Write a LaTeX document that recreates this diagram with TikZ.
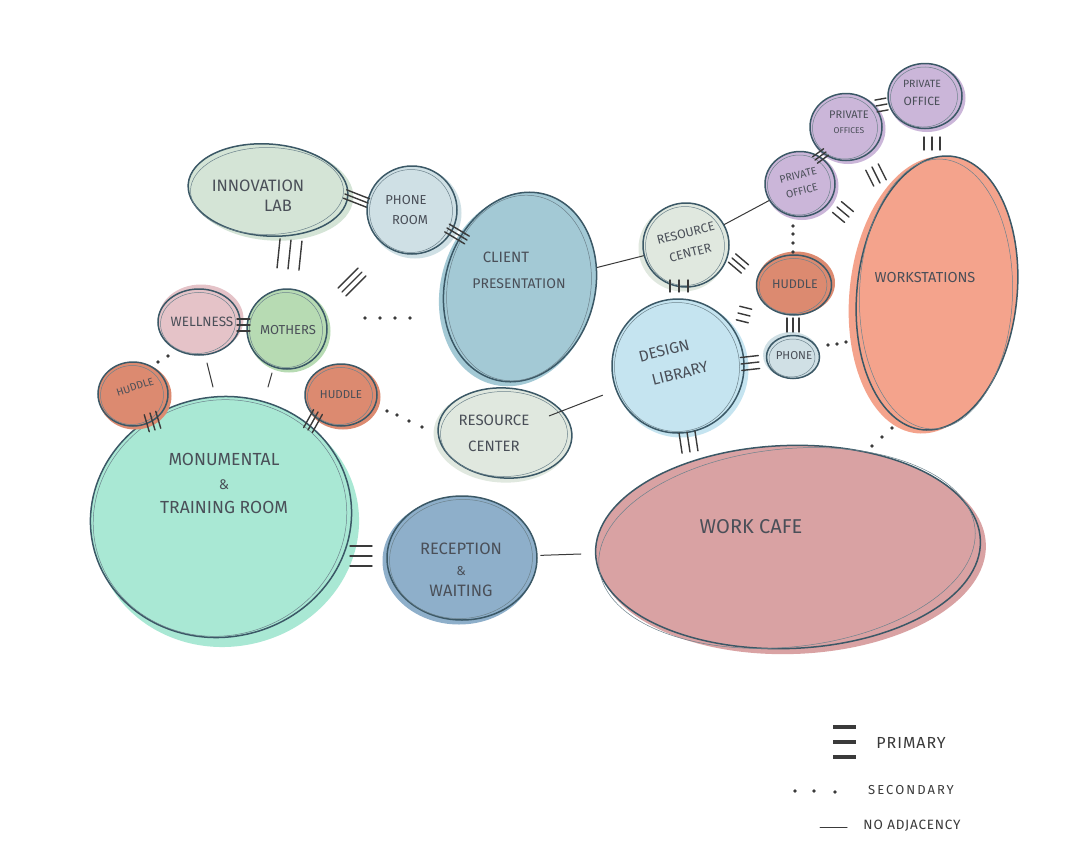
\documentclass[tikz,border=0pt]{standalone}
\usepackage{fontspec}
\setmainfont{Fira Sans}
\usetikzlibrary{shapes.geometric,calc}
\definecolor{ink}{HTML}{3B5866}
\definecolor{pen}{HTML}{3A3A3A}
\definecolor{txt}{HTML}{4A4F58}
\definecolor{cInnov}{HTML}{D4E4D6}
\definecolor{cPhoneR}{HTML}{CFE0E5}
\definecolor{cClient}{HTML}{A3C9D5}
\definecolor{cRes}{HTML}{E0E8DF}
\definecolor{cPriv}{HTML}{CBB6D9}
\definecolor{cHud}{HTML}{DC8A70}
\definecolor{cPhoneS}{HTML}{D0E0E5}
\definecolor{cWork}{HTML}{F4A38C}
\definecolor{cDesign}{HTML}{C5E4F0}
\definecolor{cRecep}{HTML}{8EAFCA}
\definecolor{cCafe}{HTML}{D9A2A3}
\definecolor{cMonu}{HTML}{A9E8D4}
\definecolor{cWell}{HTML}{E5C3C8}
\definecolor{cMoth}{HTML}{B7DBB3}
\newcommand\hsz[2]{\fontsize{#1}{#2}\selectfont}
\tikzset{
  bubble/.style={ellipse, draw=ink, line width=1.5pt, inner sep=0pt},
  halo/.style={ellipse, inner sep=0pt, draw=none},
  sketchline/.style={ellipse, draw=ink!75, line width=0.5pt, inner sep=0pt},
  lab/.style={text=txt, inner sep=0pt, align=center},
  prim/.style={draw=pen, line width=1.4pt, line cap=round},
  noadj/.style={draw=pen, line width=1pt, line cap=round},
  legbar/.style={draw=pen, line width=4pt},
}
\newcommand\bub[7]{%
  \node[halo, fill=#6, minimum width=#3pt+3pt, minimum height=#4pt+3pt, rotate=#5] at ($(#2)+(#7)$) {};
  \node[bubble, fill=#6, minimum width=#3pt, minimum height=#4pt, rotate=#5] (#1) at (#2) {};
  \node[sketchline, minimum width=#3pt-7pt, minimum height=#4pt-5pt, rotate=#5+4] at ($(#2)+(-1,1)$) {};
}
\newcommand\prm[4]{%
  \coordinate (#1-a) at (#2);
  \coordinate (#1-b) at (#3);
  \draw[prim] (#1-a) -- (#1-b);
  \draw[prim] ($(#1-a)!#4!90:(#1-b)$) -- ($(#1-b)!#4!-90:(#1-a)$);
  \draw[prim] ($(#1-a)!#4!-90:(#1-b)$) -- ($(#1-b)!#4!90:(#1-a)$);
}
\newcommand\dt[1]{\fill[pen] (#1) circle (1.9pt);}
\begin{document}
\begin{tikzpicture}[x=1pt,y=-1pt]
\useasboundingbox (0,0) rectangle (1072,860);
\fill[white] (0,0) rectangle (1072,860);

% bubbles
\bub{monu}{221,517}{262}{240}{12}{cMonu}{6,8}
\bub{innov}{268,190}{160}{92}{-4}{cInnov}{4,3}
\bub{phoneroom}{412,210}{90}{88}{0}{cPhoneR}{3,3}
\bub{client}{520,287}{150}{192}{-15}{cClient}{-3,3}
\bub{rctop}{686,245}{86}{84}{0}{cRes}{-3,3}
\bub{privlow}{800,184}{70}{65}{0}{cPriv}{2,2}
\bub{privmid}{846,127}{72}{67}{0}{cPriv}{2,2}
\bub{privtop}{925,96}{74}{65}{0}{cPriv}{2,2}
\bub{huddleR}{794,285}{75}{60}{0}{cHud}{2,-2}
\bub{phoneS}{793,357}{53}{43}{0}{cPhoneS}{-2,-2}
\bub{work}{937,293}{160}{275}{-6}{cWork}{-6,2}
\bub{design}{678,366}{132}{134}{0}{cDesign}{3,3}
\bub{rclow}{505,433}{134}{90}{-4}{cRes}{-3,3}
\bub{recep}{462,558}{150}{124}{0}{cRecep}{-3,3}
\bub{cafe}{788,547}{385}{203}{2}{cCafe}{4,4}
\bub{well}{199,322}{82}{66}{0}{cWell}{2,-3}
\bub{moth}{287,329}{80}{80}{0}{cMoth}{2,2}
\bub{hudL}{133,394}{70}{64}{0}{cHud}{2,2}
\bub{hudM}{341,395}{72}{62}{0}{cHud}{2,2}

% labels
\node[lab, font=\hsz{16.5}{20}] (innov-t) at (258,196) {INNOVATION\\\hspace*{40pt}LAB};
\node[lab, font=\hsz{13}{20}] (phoneroom-t) at (406,210) {PHONE\\\hspace*{8pt}ROOM};
\node[lab, font=\hsz{14}{26}] (client-t) at (519,270) {{\hsz{15}{26}CLIENT}\hspace*{26pt}\\PRESENTATION};
\node[lab, font=\hsz{12.5}{20}, rotate=14] (rctop-t) at (688,243) {RESOURCE\\CENTER};
\node[lab, font=\hsz{10.5}{16}, rotate=14] (privlow-t) at (800,183) {PRIVATE\\OFFICE};
\node[lab, font=\hsz{11}{15}] (privmid-t) at (849,122) {PRIVATE\\{\hsz{8.5}{15}OFFICES}};
\node[lab, font=\hsz{10.5}{18}] (privtop-t) at (922,93) {PRIVATE\\{\hsz{12}{18}OFFICE}};
\node[lab, font=\hsz{12.5}{14}] (huddleR-t) at (795,284) {HUDDLE};
\node[lab, font=\hsz{11.5}{14}] (phoneS-t) at (794,356) {PHONE};
\node[lab, font=\hsz{14.5}{16}] (work-t) at (925,277) {WORKSTATIONS};
\node[lab, font=\hsz{15.5}{26}, rotate=14] (design-t) at (672,362) {DESIGN\hspace*{10pt}\\\hspace*{10pt}LIBRARY};
\node[lab, font=\hsz{15}{26}] (rclow-t) at (494,433) {RESOURCE\\CENTER};
\node[lab, font=\hsz{16.5}{21}] (recep-t) at (461,570) {RECEPTION\\{\hsz{13}{21}\&}\\WAITING};
\node[lab, font=\hsz{20}{22}] (cafe-t) at (751,527) {WORK CAFE};
\node[lab, font=\hsz{17.5}{24}] (monu-t) at (224,483) {MONUMENTAL\\{\hsz{14}{24}\&}\\TRAINING ROOM};
\node[lab, font=\hsz{13.5}{15}] (well-t) at (202,322) {WELLNESS};
\node[lab, font=\hsz{13}{15}] (moth-t) at (288,330) {MOTHERS};
\node[lab, font=\hsz{10.5}{12}, rotate=18] (hudL-t) at (135,387) {HUDDLE};
\node[lab, font=\hsz{11.5}{13}] (hudM-t) at (341,395) {HUDDLE};

% primary adjacencies
\prm{p1}{345,194}{368,203}{4.5pt}
\prm{p2}{447,228}{467,240}{4.5pt}
\prm{p3}{291,240}{288,269}{11pt}
\prm{p4}{342,292}{362,272}{5.5pt}
\prm{p5}{237,325}{250,325}{6pt}
\prm{p6}{150,413}{155,430}{6pt}
\prm{p7}{318,412}{308,430}{5pt}
\prm{p8}{350,556}{372,556}{10pt}
\prm{p9}{679,280}{679,292}{9pt}
\prm{p10}{732,258}{745,269}{5.5pt}
\prm{p11}{738,313}{750,316}{7pt}
\prm{p12}{741,364}{759,362}{6.5pt}
\prm{p13}{793,318}{793,332}{6pt}
\prm{p14}{687,432}{690,452}{8pt}
\prm{p15}{815,160}{826,152}{4pt}
\prm{p16}{876,106}{887,104}{6pt}
\prm{p17}{932,137}{932,150}{8pt}
\prm{p18}{872,167}{880,183}{7pt}
\prm{p19}{837,207}{849,217}{7pt}

% secondary adjacencies
\dt{365,318}\dt{380,318}\dt{395,318}\dt{410,318}
\dt{387,411}\dt{397,415}\dt{409,421}\dt{422,427}
\dt{793,226}\dt{793,234}\dt{793,243}\dt{793,252}
\dt{828,345}\dt{837,344}\dt{846,342}
\dt{872,446}\dt{882,437}\dt{892,428}
\dt{158,362}\dt{168,356}

% no adjacency
\draw[noadj] (client) -- (rctop);
\draw[noadj] (rctop) -- (privlow);
\draw[noadj, shorten <=-14pt, shorten >=14pt] (rclow) -- (design);
\draw[noadj, shorten <=3pt, shorten >=14pt] (recep) -- (cafe);
\coordinate (n5a) at (207,363); \coordinate (n5b) at (213,387);
\draw[noadj] (n5a) -- (n5b);
\coordinate (n6a) at (272,373); \coordinate (n6b) at (268,387);
\draw[noadj] (n6a) -- (n6b);

% legend
\draw[legbar] (833,727) -- (856,727);
\draw[legbar] (833,742) -- (856,742);
\draw[legbar] (833,757) -- (856,757);
\node[lab, font=\hsz{16}{18}\addfontfeature{LetterSpace=6}, text=pen] (leg1) at (911,743) {PRIMARY};
\dt{795,791}\dt{814,791}\dt{835,792}
\node[lab, font=\hsz{13}{15}\addfontfeature{LetterSpace=16}, text=pen] (leg2) at (911,790) {SECONDARY};
\coordinate (lg3a) at (820,827); \coordinate (lg3b) at (847,827);
\draw[noadj] (lg3a) -- (lg3b);
\node[lab, font=\hsz{13.5}{15}\addfontfeature{LetterSpace=6}, text=pen] (leg3) at (912,826) {NO ADJACENCY};
\end{tikzpicture}
\end{document}
